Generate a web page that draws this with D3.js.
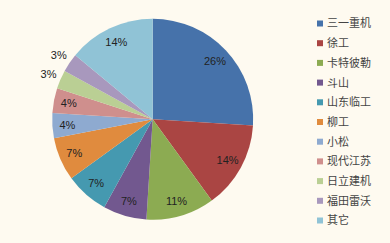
<!DOCTYPE html>
<html>
<head>
<meta charset="utf-8">
<script src="https://cdn.jsdelivr.net/npm/d3@7"></script>
<style>
  body { margin: 0; background: #fefaf0; }
  svg { display: block; }
</style>
</head>
<body>
<div id="chart"></div>
<script>
const categories = ['三一重机', '徐工', '卡特彼勒', '斗山', '山东临工', '柳工', '小松', '现代江苏', '日立建机', '福田雷沃', '其它'];
const shares = [26, 14, 11, 7, 7, 7, 4, 4, 3, 3, 14];
const colors = ['#4672aa', '#aa4543', '#8cab52', '#72588f', '#4599b0', '#e08b3e', '#8eaad0', '#cf8f8d', '#bacf94', '#a898bd', '#90c3d6'];

const width = 390, height = 243;
const cx = 152.7, cy = 119.3, radius = 100.5;

const svg = d3.select('#chart')
  .append('svg')
  .attr('width', width)
  .attr('height', height)
  .style('font-family', '"Noto Sans CJK SC", "Noto Sans", sans-serif');

svg.append('rect').attr('width', width).attr('height', height).attr('fill', '#fefaf0');

const pie = d3.pie().sort(null).value((d) => d);
const arcs = pie(shares);
const arc = d3.arc().innerRadius(0).outerRadius(radius);

const g = svg.append('g').attr('transform', `translate(${cx},${cy})`);

g.selectAll('path')
  .data(arcs)
  .enter()
  .append('path')
  .attr('d', arc)
  .attr('fill', (d, i) => colors[i]);

// small slices get their label outside the pie
const labelArc = d3.arc().innerRadius(radius * 0.85).outerRadius(radius * 0.85);
const outerArc = d3.arc().innerRadius(radius * 1.13).outerRadius(radius * 1.13);

g.selectAll('.lbl')
  .data(arcs)
  .enter()
  .append('text')
  .attr('class', 'lbl')
  .attr('transform', (d) => `translate(${(d.data <= 3 ? outerArc : labelArc).centroid(d)})`)
  .attr('text-anchor', 'middle')
  .attr('dy', '0.35em')
  .attr('font-size', 11)
  .attr('font-family', '"Liberation Sans", Arial, sans-serif')
  .attr('fill', '#222')
  .text((d) => d.data + '%');

// legend
const legend = svg.append('g').attr('transform', 'translate(317,23.5)');
const row = legend.selectAll('g')
  .data(categories)
  .enter()
  .append('g')
  .attr('transform', (d, i) => `translate(0,${i * 19.7})`);

row.append('rect')
  .attr('x', 0)
  .attr('y', -3)
  .attr('width', 6)
  .attr('height', 6)
  .attr('fill', (d, i) => colors[i]);

row.append('text')
  .attr('x', 10)
  .attr('dy', '0.36em')
  .attr('font-size', 11)
  .attr('fill', '#444')
  .text((d) => d);
</script>
</body>
</html>
